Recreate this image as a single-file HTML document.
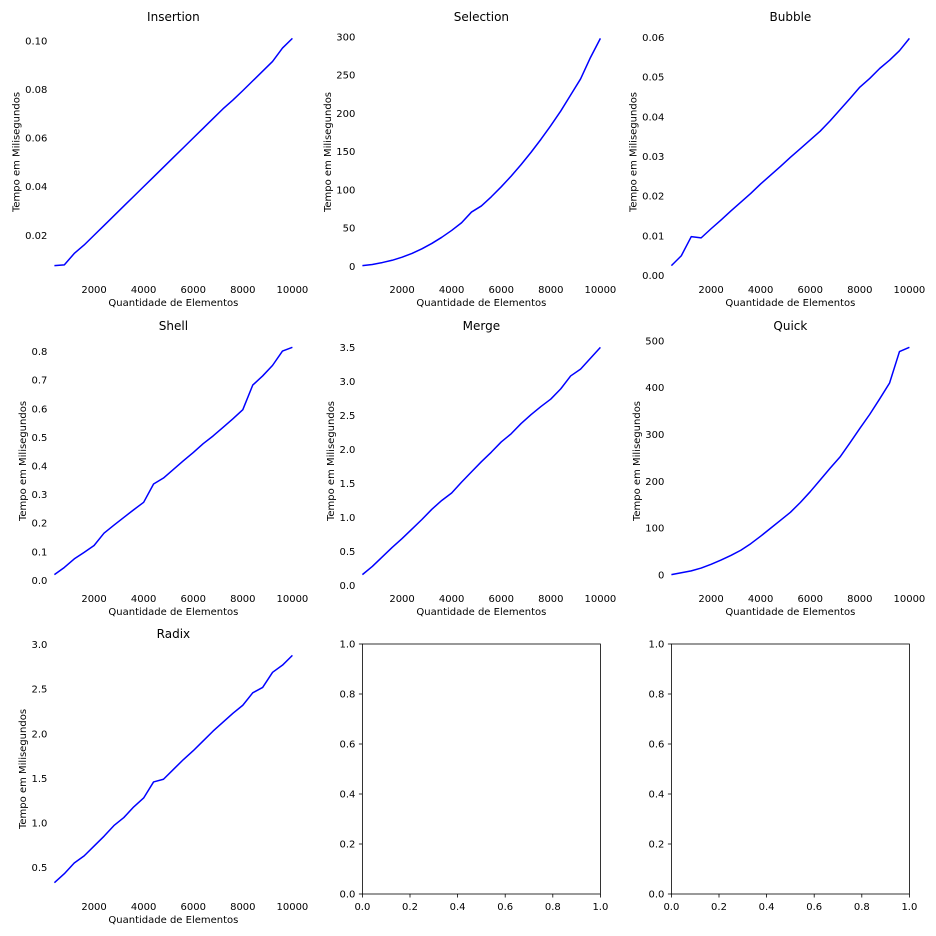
<!DOCTYPE html>
<html><head><meta charset="utf-8">
<style>
html,body{margin:0;padding:0;background:#fff;}
svg{display:block;font-family:"DejaVu Sans","Liberation Sans",sans-serif;}
</style></head>
<body>
<svg id="fig" width="936" height="936" viewBox="0 0 936 936"></svg>
<script>
const xValues = [400,800,1200,1600,2000,2400,2800,3200,3600,4000,4400,4800,5200,5600,6000,6400,6800,7200,7600,8000,8400,8800,9200,9600,10000];
const xTicks = [2000,4000,6000,8000,10000];
const insertionValues = [0.0075,0.0078,0.0125,0.016,0.020,0.024,0.028,0.032,0.036,0.040,0.044,0.048,0.052,0.056,0.060,0.064,0.068,0.072,0.0756,0.0795,0.0835,0.0875,0.0915,0.097,0.101];
const selectionValues = [1,2.5,5,8,12,17,23,30,38,47,57,71,79,91,104,118,133,149,166,184,203,224,245,273,298];
const bubbleValues = [0.0025,0.005,0.0098,0.0095,0.0118,0.0140,0.0163,0.0185,0.0207,0.0231,0.0253,0.0275,0.0298,0.0320,0.0342,0.0364,0.0390,0.0418,0.0446,0.0475,0.0497,0.0522,0.0543,0.0567,0.0598];
const shellValues = [0.02,0.045,0.075,0.098,0.122,0.165,0.193,0.220,0.247,0.273,0.337,0.358,0.388,0.418,0.447,0.478,0.505,0.535,0.565,0.597,0.683,0.715,0.752,0.802,0.815];
const mergeValues = [0.16,0.28,0.42,0.56,0.69,0.83,0.97,1.12,1.25,1.36,1.52,1.67,1.82,1.96,2.11,2.23,2.38,2.51,2.63,2.74,2.89,3.08,3.18,3.34,3.50];
const quickValues = [1,5,9,15,23,32,42,53,67,83,100,117,134,155,178,203,228,252,282,313,343,376,410,477,486];
const radixValues = [0.33,0.43,0.55,0.63,0.74,0.85,0.97,1.06,1.18,1.28,1.46,1.49,1.60,1.71,1.81,1.92,2.03,2.13,2.23,2.32,2.46,2.52,2.69,2.77,2.88];
const insertionTicks = ["0.02","0.04","0.06","0.08","0.10"];
const selectionTicks = ["0","50","100","150","200","250","300"];
const bubbleTicks = ["0.00","0.01","0.02","0.03","0.04","0.05","0.06"];
const shellTicks = ["0.0","0.1","0.2","0.3","0.4","0.5","0.6","0.7","0.8"];
const mergeTicks = ["0.0","0.5","1.0","1.5","2.0","2.5","3.0","3.5"];
const quickTicks = ["0","100","200","300","400","500"];
const radixTicks = ["0.5","1.0","1.5","2.0","2.5","3.0"];
const emptyTicks = ["0.0","0.2","0.4","0.6","0.8","1.0"];

const NS="http://www.w3.org/2000/svg";
const svg=document.getElementById('fig');
const colLeft=[54.4,362.4,671.4], rowTop=[27,336,644], W=238, H=250;
function mk(tag,attrs,parent){const e=document.createElementNS(NS,tag);for(const k in attrs)e.setAttribute(k,attrs[k]);(parent||svg).appendChild(e);return e;}

function chart(name,title,values,yTicks,col,row){
  const L=colLeft[col],T=rowTop[row];
  const g=mk('g',{});
  
  
  const xmin=Math.min(...xValues),xmax=Math.max(...xValues);
  const vmin=Math.min(...values),vmax=Math.max(...values),m=(vmax-vmin)*0.05;
  const ylo=vmin-m,yhi=vmax+m;
  const xs=v=>L+(v-xmin)/(xmax-xmin)*W;
  const ys=v=>T+H-(v-ylo)/(yhi-ylo)*H;
  const t=mk('text',{x:L+W/2,y:T-6,'text-anchor':'middle','font-size':12,fill:'#000'},g);
  t.textContent=title;
  
  
  xTicks.forEach(v=>{const e=mk('text',{x:xs(v),y:T+H+16,'text-anchor':'middle','font-size':10,fill:'#000'},g);e.textContent=v;
    
    });
  let minLeft=L;
  yTicks.forEach(s=>{const v=parseFloat(s);if(v<ylo||v>yhi)return;const e=mk('text',{x:L-7,y:ys(v)+3.5,'text-anchor':'end','font-size':10,fill:'#000'},g);e.textContent=s;
    
    
    const w=e.getComputedTextLength();minLeft=Math.min(minLeft,L-7-w);});
  const xl=mk('text',{x:L+W/2,y:T+H+29,'text-anchor':'middle','font-size':10,fill:'#000'},g);
  xl.textContent='Quantidade de Elementos';
  
  
  const cx=minLeft-9,cy=T+H/2;
  const yl=mk('text',{x:cx,y:cy,'text-anchor':'middle','font-size':10,fill:'#000',transform:`rotate(-90 ${cx} ${cy}) translate(0 3.5)`},g);
  yl.textContent='Tempo em Milisegundos';
  
  
  const d=xValues.map((x,i)=>(i?'L':'M')+xs(x).toFixed(2)+' '+ys(values[i]).toFixed(2)).join(' ');
  const p=mk('path',{d:d,fill:'none',stroke:'#0000ff','stroke-width':1.5,'stroke-linejoin':'round'},g);
  
  
}
function empty(name,col,row){
  const L=colLeft[col],T=rowTop[row];
  const g=mk('g',{});
  
  
  mk('rect',{x:L,y:T,width:W,height:H,fill:'none',stroke:'#000','stroke-width':0.8},g);
  emptyTicks.forEach(s=>{const v=parseFloat(s);
    const x=L+v*W,y=T+H-v*H;
    mk('line',{x1:x,y1:T+H,x2:x,y2:T+H+3.5,stroke:'#000','stroke-width':0.8},g);
    mk('line',{x1:L,y1:y,x2:L-3.5,y2:y,stroke:'#000','stroke-width':0.8},g);
    const a=mk('text',{x:x,y:T+H+16,'text-anchor':'middle','font-size':10,fill:'#000'},g);a.textContent=s;
    
    
    const b=mk('text',{x:L-7,y:y+3.5,'text-anchor':'end','font-size':10,fill:'#000'},g);b.textContent=s;
    
    
  });
}
chart('insertion','Insertion',insertionValues,insertionTicks,0,0);
chart('selection','Selection',selectionValues,selectionTicks,1,0);
chart('bubble','Bubble',bubbleValues,bubbleTicks,2,0);
chart('shell','Shell',shellValues,shellTicks,0,1);
chart('merge','Merge',mergeValues,mergeTicks,1,1);
chart('quick','Quick',quickValues,quickTicks,2,1);
chart('radix','Radix',radixValues,radixTicks,0,2);
empty('empty-axes-1',1,2);
empty('empty-axes-2',2,2);
</script>
</body></html>
